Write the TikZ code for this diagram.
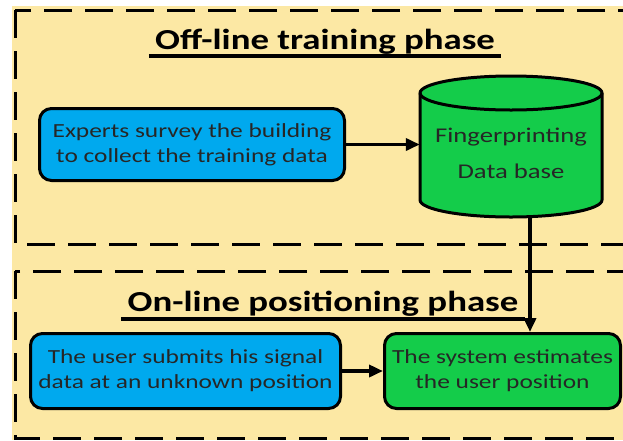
\documentclass[tikz,border=0pt]{standalone}
\usepackage{fontspec}
\setmainfont[FakeStretch=1.27]{Carlito}
\usetikzlibrary{arrows.meta,positioning}
\definecolor{phasebg}{HTML}{FCE8A4}
\definecolor{stepblue}{HTML}{00A9EE}
\definecolor{stepgreen}{HTML}{14CC4A}

\begin{document}
\begin{tikzpicture}[>={Triangle[length=14pt,width=12pt]}, x=1pt, y=-1pt,
        phase/.style={draw, line width=3pt, dash pattern=on 28pt off 13pt},
        heading/.style={font=\fontsize{29}{33}\selectfont\bfseries, inner sep=0pt},
        stepbox/.style={draw, line width=3pt, rounded corners=12pt, align=center,
            text=black!85, font=\fontsize{20}{25}\selectfont, inner sep=0pt},
        link/.style={->, line width=3.5pt}]
    \useasboundingbox (0,0) rectangle (623,440);
    \fill[phasebg] (12,6) rectangle (623,440);
    \clip (0,0) rectangle (623,440);
    % the two phases
    \draw[phase] (15,10) rectangle (650,244);
    \draw[phase] (15,271) rectangle (650,438);
    \node[heading, anchor=base] (offtitle) at (325,49) {Off-line training phase};
    \node[heading, anchor=base] (ontitle) at (323,311) {On-line positioning phase};
    \foreach \t/\d in {offtitle/7,ontitle/8}
    {
    \draw[line width=4.5pt] ([xshift=-6pt,yshift=-\d pt]\t.base west) -- ([xshift=6pt,yshift=-\d pt]\t.base east);
    }
    % off-line
    \node[stepbox, fill=stepblue, minimum width=305pt, minimum height=72pt] (survey) at (192,144.5)
        {Experts survey the building\\to collect the training data};
    \filldraw[fill=stepgreen, line width=3pt] (420,93) -- (420,200)
        arc[start angle=180, end angle=360, x radius=91pt, y radius=17pt] -- (602,93)
        arc[start angle=0, end angle=180, x radius=91pt, y radius=17pt] -- cycle;
    \draw[line width=3pt] (420,93) arc[start angle=180, end angle=360, x radius=91pt, y radius=17pt];
    \node[align=center, text=black!85, font=\fontsize{21}{36}\selectfont, minimum width=182pt,
        inner sep=0pt] (db) at (511,153) {Fingerprinting\\Data base};
    \coordinate (dbfoot) at (530,216);
    % on-line
    \node[stepbox, fill=stepblue, minimum width=310pt, minimum height=75pt] (submit) at (185.5,371)
        {The user submits his signal\\data at an unknown position};
    \node[stepbox, fill=stepgreen, minimum width=236pt, minimum height=75pt] (est) at (502.5,371)
        {The system estimates\\the user position};
    \draw[link] (survey.east) -- (survey.east -| db.west);
    \draw[link] (submit) -- (est);
    \draw[link] (dbfoot) -- (dbfoot |- est.north);
\end{tikzpicture}
\end{document}
